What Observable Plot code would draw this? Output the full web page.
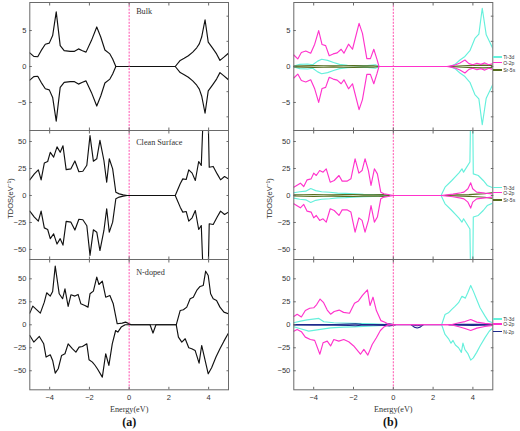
<!DOCTYPE html>
<html><head><meta charset="utf-8">
<script src="https://cdn.jsdelivr.net/npm/d3@7"></script>
<script src="https://cdn.jsdelivr.net/npm/@observablehq/plot@0.6"></script>
<style>
body{margin:0;background:#fff;}
#chart{position:relative;width:520px;height:431px;overflow:hidden;background:#fff;}
#chart svg{position:absolute;}
.leg{position:absolute;left:493px;height:6px;line-height:6px;font-family:"Liberation Sans",Arial,sans-serif;font-size:5px;color:#333;display:flex;align-items:center;white-space:nowrap;}
.leg .sw{display:inline-block;width:9px;height:1.4px;margin-right:1.2px;}
</style></head><body><div id="chart"></div>
<script>
// ---------- axis ticks ----------
const energyTicks = [-4, -2, 0, 2, 4];
const bulkTicks = [-5, 0, 5];
const bulkMinorTicks = [-7, -3.5, 0, 3.5, 7];
const surfTicks = [-50, -25, 0, 25, 50];

// ---------- (a) total DOS ----------
const bulkE = [-5, -4.8, -4.6, -4.43, -4.22, -4.02, -3.85, -3.67, -3.47, -3.27, -2.97, -2.77, -2.55, -2.35, -2.17, -1.9, -1.63, -1.43, -1.22, -0.97, -0.83, -0.67, 2.32, 2.57, 2.77, 2.98, 3.2, 3.4, 3.53, 3.65, 3.82, 3.98, 4.2, 4.4, 4.57, 4.77, 5];
const bulkUp = [1.9, 1.4, 1.35, 2.2, 3.1, 3.25, 4.3, 7.6, 2.9, 2.2, 2.1, 2.1, 2.45, 2.2, 2.0, 3.6, 5.5, 4.1, 2.3, 1.75, 1.05, 0, 0, 0.85, 1.15, 1.5, 2.0, 2.6, 3.15, 4.1, 6.5, 3.4, 2.55, 1.75, 0.85, 1.3, 1.85];
const bulkDown = [-1.9, -1.4, -1.35, -2.2, -3.1, -3.25, -4.3, -7.6, -2.9, -2.2, -2.1, -2.1, -2.45, -2.2, -2.0, -3.6, -5.5, -4.1, -2.3, -1.75, -1.05, 0, 0, -0.85, -1.15, -1.5, -2.0, -2.6, -3.15, -4.1, -6.5, -3.4, -2.55, -1.75, -0.85, -1.3, -1.85];

const cleanE = [-5, -4.77, -4.57, -4.43, -4.27, -4.1, -3.97, -3.8, -3.63, -3.47, -3.33, -3.17, -2.93, -2.73, -2.53, -2.33, -2.13, -1.97, -1.8, -1.63, -1.47, -1.27, -1.13, -1.0, -0.83, -0.67, -0.5, -0.3, -0.1, 2.32, 2.57, 2.7, 2.87, 3.0, 3.17, 3.33, 3.5, 3.63, 3.77, 3.95, 4.03, 4.23, 4.43, 4.6, 4.8, 5];
const cleanUp = [14.5, 20, 23.8, 14.5, 30, 31.5, 40, 35.5, 45, 40, 46, 24, 24.7, 32, 22, 22.5, 28, 55.5, 31.8, 34, 51, 32.4, 12.3, 34, 24.7, 3, 1.5, 0.6, 0, 0, 10.8, 15.4, 14.8, 23.8, 20.7, 13.9, 31.5, 27.8, 95, 95, 26.2, 26.9, 20, 14.5, 17.6, 15.4];
const cleanDown = [-14.5, -20, -23.8, -14.5, -30, -31.5, -40, -35.5, -45, -40, -46, -24, -24.7, -32, -22, -22.5, -28, -55.5, -31.8, -34, -51, -32.4, -12.3, -34, -24.7, -3, -1.5, -0.6, 0, 0, -10.8, -15.4, -14.8, -23.8, -20.7, -13.9, -31.5, -27.8, -95, -95, -26.2, -26.9, -20, -14.5, -17.6, -15.4];

const dopedUpE = [-5, -4.85, -4.47, -4.27, -4.15, -3.97, -3.85, -3.72, -3.52, -3.35, -3.23, -3.07, -2.93, -2.73, -2.57, -2.43, -2.23, -2.07, -1.97, -1.8, -1.63, -1.52, -1.35, -1.18, -0.97, -0.8, -0.6, -0.35, -0.18, 0, 0.1, 2.37, 2.57, 2.73, 2.9, 3.07, 3.23, 3.4, 3.57, 3.73, 3.85, 3.98, 4.1, 4.23, 4.4, 4.57, 4.77, 5];
const dopedUp = [12.7, 20.3, 12.7, 24.6, 34.8, 31.2, 36.2, 63.8, 33.7, 28.3, 39.1, 19.9, 32.6, 31.2, 33, 22.8, 21, 19.2, 33.7, 36.6, 51.8, 43.8, 47.5, 30, 31.9, 22.8, 1.1, 1.8, 2.9, 1.1, 0, 0, 15.6, 16.3, 19.2, 28.3, 30, 37.3, 41.7, 42.8, 58.3, 53.6, 33.7, 28.3, 26.4, 19.2, 13.8, 12];
const dopedDownE = [-5, -4.8, -4.52, -4.3, -4.18, -3.97, -3.85, -3.72, -3.57, -3.4, -3.23, -3.07, -2.85, -2.68, -2.52, -2.35, -2.13, -2.02, -1.85, -1.72, -1.6, -1.35, -1.18, -1.02, -0.85, -0.68, -0.57, -0.4, -0.2, 1.05, 1.2, 1.35, 2.37, 2.48, 2.65, 2.82, 3.0, 3.15, 3.32, 3.52, 3.65, 3.98, 4.15, 4.37, 4.57, 4.77, 5];
const dopedDown = [-11.6, -18.8, -12.7, -20.7, -35.1, -32.6, -38.8, -52.5, -47.8, -33.3, -31.5, -20.7, -26.1, -29.7, -24.3, -23.6, -20.7, -38, -40.6, -44, -47.8, -56.9, -31.5, -44.2, -20.7, -6.2, -8, -2.5, 0, 0, -9, 0, 0, -13.4, -18.8, -15.2, -25, -26, -27.9, -41.7, -22.5, -53.3, -46.7, -35.1, -26, -17.8, -9];

// ---------- (b) partial DOS : bulk ----------
const bTiE = [-5, -4.7, -4.3, -4.05, -3.8, -3.6, -3.3, -3.0, -2.7, -2.3, -1.8, -1.3, -0.9, -0.7, 2.85, 3.1, 3.35, 3.6, 3.85, 4.1, 4.3, 4.47, 4.67, 5];
const bTiUp = [0.05, 0.3, 0.35, 0.25, 0.75, 1.0, 0.85, 0.55, 0.3, 0.15, 0.1, 0.12, 0.25, 0, 0, 0.3, 0.9, 1.4, 2.2, 3.9, 4.5, 8.1, 4.4, 2.5];
const bTiDown = [-0.05, -0.3, -0.35, -0.25, -0.75, -1.0, -0.85, -0.55, -0.3, -0.15, -0.1, -0.12, -0.25, 0, 0, -0.3, -0.9, -1.4, -2.2, -3.9, -4.5, -8.1, -4.4, -2.5];
const bOE = [-5, -4.8, -4.62, -4.4, -4.15, -3.95, -3.75, -3.58, -3.4, -3.22, -3.02, -2.82, -2.62, -2.48, -2.25, -2.05, -1.72, -1.55, -1.33, -1.15, -0.98, -0.82, -0.72, 2.7, 3.1, 3.35, 3.6, 3.8, 4.0, 4.2, 4.4, 4.6, 4.8, 5];
const bOUp = [1.6, 1.05, 1.95, 2.15, 1.85, 3.1, 5.0, 3.05, 2.9, 1.5, 1.75, 1.9, 2.4, 1.85, 3.1, 2.4, 6.0, 4.6, 1.1, 1.1, 2.4, 1.0, 0, 0, 0.2, 0.5, 0.9, 0.4, 0.25, 0.45, 0.3, 0.5, 0.25, 0.4];
const bODown = [-1.6, -1.05, -1.95, -2.15, -1.85, -3.1, -5.0, -3.05, -2.9, -1.5, -1.75, -1.9, -2.4, -1.85, -3.1, -2.4, -6.0, -4.6, -1.1, -1.1, -2.4, -1.0, 0, 0, -0.2, -0.5, -0.9, -0.4, -0.25, -0.45, -0.3, -0.5, -0.25, -0.4];
const bSrE = [-5, -4.5, -4, -3.5, -3, -2.5, -2, -1.5, -1, -0.7, 0, 2.8, 3.5, 4, 4.5, 5];
const bSrUp = [0.05, 0.08, 0.12, 0.1, 0.08, 0.1, 0.12, 0.08, 0.1, 0, null, 0, 0.1, 0.15, 0.2, 0.15];
const bSrDown = [-0.05, -0.08, -0.12, -0.1, -0.08, -0.1, -0.12, -0.08, -0.1, 0, null, 0, -0.1, -0.15, -0.2, -0.15];

// ---------- (b) partial DOS : clean surface ----------
const cTiE = [-5, -4.7, -4.4, -4.15, -3.9, -3.6, -3.2, -2.8, -2.4, -2.0, -1.5, -1.0, -0.6, -0.2, 2.4, 2.6, 2.94, 3.1, 3.3, 3.45, 3.53, 3.68, 3.85, 3.9, 3.98, 4.02, 4.27, 4.52, 4.72, 5];
const cTiUp = [2.5, 3.5, 4.0, 6.5, 4.5, 3.5, 3.0, 2.2, 2.0, 1.5, 1.0, 0.9, 0.5, 0, 0, 7.7, 13.9, 17, 21, 24.7, 21.6, 26, 31, 95, 95, 20, 18.5, 13.9, 9.3, 7.1];
const cTiDown = [-2.5, -3.5, -4.0, -6.5, -4.5, -3.5, -3.0, -2.2, -2.0, -1.5, -1.0, -0.9, -0.5, 0, 0, -7.7, -13.9, -17, -21, -24.7, -21.6, -26, -31, -95, -95, -20, -18.5, -13.9, -9.3, -7.1];
const cOE = [-5, -4.67, -4.5, -4.33, -4.13, -4.0, -3.87, -3.7, -3.53, -3.37, -3.17, -2.97, -2.73, -2.57, -2.33, -2.13, -1.92, -1.73, -1.57, -1.42, -1.25, -1.12, -0.95, -0.8, -0.63, -0.47, -0.25, 0, 2.4, 3.0, 3.4, 3.55, 3.75, 3.89, 3.99, 4.19, 4.6, 5];
const cOUp = [7.7, 11.4, 8.3, 14.5, 15.4, 20.7, 18.5, 23.1, 21.6, 24.7, 12.3, 13.9, 18.5, 13.3, 13.3, 15.4, 34, 20.7, 23.1, 34, 23.1, 9.3, 24.7, 20, 3.1, 1.5, 0.9, 0, 0, 1.2, 2.5, 3.1, 6.2, 11.7, 6.2, 3.1, 2.2, 1.5];
const cODown = [-7.7, -11.4, -8.3, -14.5, -15.4, -20.7, -18.5, -23.1, -21.6, -24.7, -12.3, -13.9, -18.5, -13.3, -13.3, -15.4, -34, -20.7, -23.1, -34, -23.1, -9.3, -24.7, -20, -3.1, -1.5, -0.9, 0, 0, -1.2, -2.5, -3.1, -6.2, -11.7, -6.2, -3.1, -2.2, -1.5];
const cSrE = [-5, -4.5, -4, -3.5, -3, -2.5, -2, -1.5, -1, -0.5, -0.2, 0, 2.6, 3.2, 3.8, 4.2, 4.6, 5];
const cSrUp = [0.5, 0.7, 0.9, 0.7, 0.6, 0.8, 0.9, 0.6, 0.5, 0.8, 0, null, 0, 0.5, 0.8, 1.2, 1.6, 2.8];
const cSrDown = [-0.5, -0.7, -0.9, -0.7, -0.6, -0.8, -0.9, -0.6, -0.5, -0.8, 0, null, 0, -0.5, -0.8, -1.2, -1.6, -2.8];

// ---------- (b) partial DOS : N-doped ----------
const nTiUpE = [-5, -4.66, -4.33, -3.74, -3.49, -2.99, -2.5, -2.0, -1.5, -1.0, -0.5, -0.1, 2.43, 2.6, 2.77, 2.94, 3.1, 3.28, 3.45, 3.62, 3.74, 3.89, 4.02, 4.19, 4.36, 4.61, 4.77, 5];
const nTiUp = [2.2, 4, 5.4, 6.9, 3.3, 2.2, 1.9, 1.6, 1.3, 1.0, 0.6, 0, 0, 11.2, 13, 16.7, 20, 24, 31, 29, 34.8, 42.8, 36.6, 27.5, 18.5, 9.4, 4, 2.2];
const nTiDownE = [-5, -4.66, -4.25, -3.66, -3.15, -2.5, -2.0, -1.5, -1.0, -0.5, -0.1, 2.43, 2.6, 2.77, 2.9, 3.0, 3.12, 3.28, 3.42, 3.5, 3.6, 3.74, 3.89, 4.02, 4.19, 4.36, 4.61, 4.82, 5];
const nTiDown = [-2.2, -4.3, -6.9, -5, -3.3, -2.6, -2.2, -1.8, -1.3, -0.8, 0, 0, -10.5, -15, -20, -17, -22, -25, -30, -20, -27, -31, -38.4, -36, -30, -23, -14, -7, -3.3];
const nOUpE = [-5, -4.83, -4.62, -4.42, -4.2, -4.0, -3.85, -3.68, -3.5, -3.32, -3.15, -2.97, -2.72, -2.5, -2.2, -1.95, -1.75, -1.55, -1.3, -1.17, -1.02, -0.85, -0.62, -0.45, -0.28, 0, 2.9, 3.3, 3.6, 3.89, 4.2, 4.6, 5];
const nOUp = [9, 11.5, 8.5, 15.6, 18, 18.5, 22, 28, 24, 16, 11.5, 14.5, 16, 13.5, 12.5, 23.5, 26, 32, 38, 21, 30, 15.5, 4.5, 3, 1, 0, 0, 2.2, 3.5, 5.8, 2.9, 1.5, 0.7];
const nODownE = [-5, -4.83, -4.62, -4.42, -4.17, -3.95, -3.69, -3.53, -3.32, -3.15, -2.99, -2.74, -2.49, -2.24, -1.99, -1.65, -1.48, -1.28, -1.06, -0.85, -0.65, -0.48, -0.28, 0, 2.9, 3.3, 3.6, 3.89, 4.2, 4.6, 5];
const nODown = [-7, -5, -7.5, -13.4, -16, -17, -32, -19.6, -17.8, -23, -16, -17.8, -16, -18.5, -23, -32, -26.8, -33, -21.4, -14.1, -6.2, -2.5, -0.4, 0, 0, -2.2, -4, -6.2, -3.6, -1.8, -0.7];
const nNE = [-5, -4, -3, -2.2, -1.9, -1.6, -1, -0.4, -0.2, -0.05, 0.1, 0.5, 0.9, 1.05, 1.2, 1.35, 1.5, 2.2, 2.8, 3.3, 4, 4.5, 5];
const nNUp = [0.2, 0.3, 0.3, 0.8, 1.0, 0.5, 0.3, 0.5, 1.0, 0.5, 0, null, 0, -0.5, -1.0, -0.5, 0, null, 0, 0.5, 0.6, 0.4, 0.3];
const nNDown = [-0.2, -0.3, -0.3, -0.8, -1.0, -0.5, -0.3, -0.6, -1.2, -0.6, 0, null, 0, -2.5, -3.5, -2.5, 0, null, 0, -0.5, -0.6, -0.4, -0.3];

// ---------- styling / layout ----------
const C = {total: "#111111", ti: "#66f0dc", o: "#ff33cc", sr: "#566d1f", n: "#1f2a8c", fermi: "#ff4fae", frame: "#6a6a6a"};
const pts = (E, V) => E.map((e, i) => ({E: e, v: V[i]}));

const rows = [
  {top: 0, height: 130, mt: 2, mb: 0, domain: [-8.9, 8.9], ticks: bulkTicks, minor: bulkMinorTicks, title: "Bulk", titleDy: 11.5,
   left: [[bulkE, bulkUp], [bulkE, bulkDown]],
   right: [[bTiE, bTiUp, C.ti], [bTiE, bTiDown, C.ti], [bSrE, bSrUp, C.sr], [bSrE, bSrDown, C.sr], [bOE, bOUp, C.o], [bOE, bODown, C.o]],
   legend: [["Ti-3d", C.ti, 57], ["O-2p", C.o, 62.7], ["Sr-5s", C.sr, 70]]},
  {top: 130, height: 129, mt: 0, mb: 0, domain: [-59.3, 60.2], ticks: surfTicks, minor: surfTicks, title: "Clean Surface", titleDy: 14,
   left: [[cleanE, cleanUp], [cleanE, cleanDown]],
   right: [[cTiE, cTiUp, C.ti], [cTiE, cTiDown, C.ti], [cSrE, cSrUp, C.sr], [cSrE, cSrDown, C.sr], [cOE, cOUp, C.o], [cOE, cODown, C.o]],
   legend: [["Ti-3d", C.ti, 187.8], ["O-2p", C.o, 192.7], ["Sr-5s", C.sr, 200]]},
  {top: 259, height: 172, mt: 0, mb: 41.7, domain: [-70.7, 71], ticks: surfTicks, minor: surfTicks, title: "N-doped", titleDy: 15.3,
   left: [[dopedUpE, dopedUp], [dopedDownE, dopedDown]],
   right: [[nTiUpE, nTiUp, C.ti], [nTiDownE, nTiDown, C.ti], [nNE, nNUp, C.n], [nNE, nNDown, C.n], [nOUpE, nOUp, C.o], [nODownE, nODown, C.o]],
   legend: [["Ti-3d", C.ti, 319], ["O-2p", C.o, 324], ["N-2p", C.n, 331.5]]}
];
const cols = [
  {left: 0, ml: 29.3, mr: 32, caption: "(a)", capDx: 0, yLabelDx: -19.3},
  {left: 260, ml: 33.3, mr: 27.7, caption: "(b)", capDx: -3, yLabelDx: -24.3}
];

const chart = document.getElementById("chart");

rows.forEach((row, ri) => {
  cols.forEach((col, ci) => {
    const isBottom = ri === rows.length - 1;
    const marks = [];
    if (ci === 0) {
      for (const [E, V] of row.left) marks.push(Plot.line(pts(E, V), {x: "E", y: "v", stroke: C.total, strokeWidth: 1.15, clip: true}));
    } else {
      for (const [E, V, c] of row.right) marks.push(Plot.line(pts(E, V), {x: "E", y: "v", stroke: c, strokeWidth: 1.15, clip: true}));
    }
    marks.push(Plot.ruleX([0], {stroke: C.fermi, strokeWidth: 1, strokeDasharray: "2,1.3"}));
    marks.push(Plot.frame({stroke: C.frame, strokeWidth: 1}));
    marks.push(Plot.axisY({anchor: "left", ticks: row.ticks, tickSize: -2.5, tickPadding: 6, stroke: C.frame, fill: "#333", fontSize: 7.5, label: null}));
    marks.push(Plot.axisY({anchor: "right", ticks: row.minor, tickSize: -2.5, tickFormat: () => "", stroke: C.frame, label: null}));
    marks.push(Plot.axisX({anchor: "top", ticks: energyTicks, tickSize: -2.5, tickFormat: () => "", stroke: C.frame, label: null}));
    if (isBottom) {
      marks.push(Plot.axisX({anchor: "bottom", ticks: energyTicks, tickSize: -2.5, tickPadding: 7, stroke: C.frame, fill: "#333", fontSize: 7.5, label: null}));
      marks.push(Plot.text(["Energy(eV)"], {frameAnchor: "bottom", lineAnchor: "bottom", dy: 21.7, fontFamily: "Liberation Serif", fontSize: 8.2, fill: "#333"}));
      marks.push(Plot.text([col.caption], {frameAnchor: "bottom", lineAnchor: "bottom", dy: 35.7, dx: col.capDx, fontFamily: "Liberation Serif", fontWeight: "bold", fontSize: 12, fill: "#111"}));
    } else {
      marks.push(Plot.axisX({anchor: "bottom", ticks: energyTicks, tickSize: -2.5, tickFormat: () => "", stroke: C.frame, label: null}));
    }
    if (ci === 0) {
      marks.push(Plot.text([row.title], {frameAnchor: "top", textAnchor: "start", lineAnchor: "bottom", dx: 7, dy: row.titleDy, fontFamily: "Liberation Serif", fontSize: 8.2, fill: "#333"}));
    }
    if (ri === 1) {
      marks.push(Plot.text(["TDOS(eV⁻¹)"], {frameAnchor: "left", rotate: -90, textAnchor: "middle", lineAnchor: "middle", dx: col.yLabelDx, dy: 3.5, fontFamily: "Liberation Sans", fontSize: 7.5, fill: "#333"}));
    }
    const svg = Plot.plot({
      width: 260, height: row.height,
      marginLeft: col.ml, marginRight: col.mr, marginTop: row.mt, marginBottom: row.mb,
      x: {domain: [-5, 5]},
      y: {domain: row.domain},
      style: {fontFamily: "Liberation Sans, Arial, sans-serif", fontSize: "7.5px", background: "transparent", overflow: "visible", color: "#333"},
      marks
    });
    svg.style.left = col.left + "px";
    svg.style.top = row.top + "px";
    chart.appendChild(svg);
  });
  // legend for the partial-DOS panel
  for (const [name, color, y] of row.legend) {
    const d = document.createElement("div");
    d.className = "leg";
    d.style.top = (y - 3) + "px";
    const sw = document.createElement("span");
    sw.className = "sw";
    sw.style.background = color;
    d.appendChild(sw);
    d.appendChild(document.createTextNode(name));
    chart.appendChild(d);
  }
});
</script></body></html>
